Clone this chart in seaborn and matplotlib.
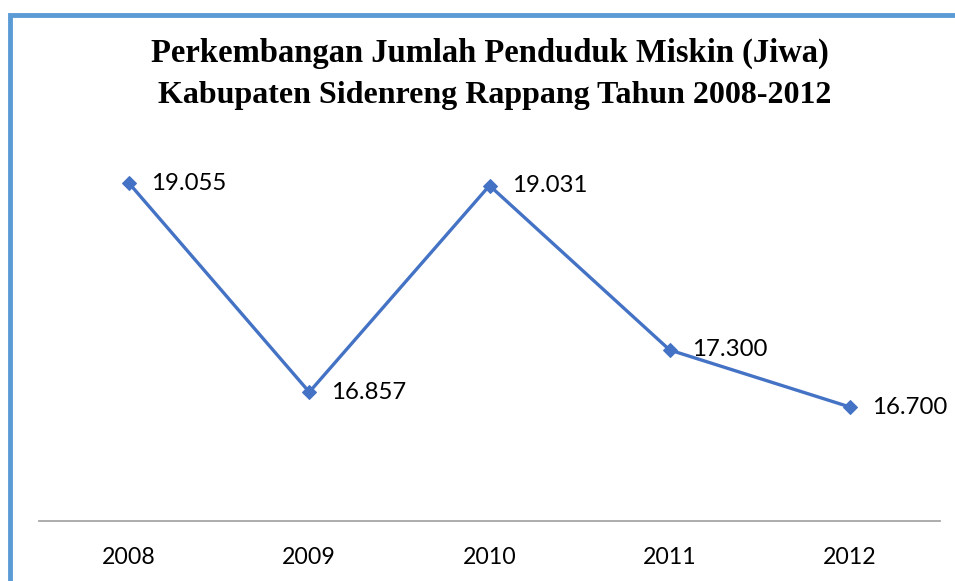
import matplotlib.pyplot as plt
import matplotlib.patches as mpatches
import pandas as pd
import seaborn as sns

# data
years = ['2008', '2009', '2010', '2011', '2012']
penduduk_miskin = [19055, 16857, 19031, 17300, 16700]
labels = ['19.055', '16.857', '19.031', '17.300', '16.700']

df = pd.DataFrame({'pos': range(len(years)), 'jiwa': penduduk_miskin})

sns.set_style('white')
plt.rcParams['font.family'] = ['Lato', 'DejaVu Sans']
plt.rcParams['text.color'] = 'black'
plt.rcParams['xtick.color'] = 'black'

fig = plt.figure(figsize=(9.55, 5.81), dpi=100)
ax = fig.add_axes([39 / 955, 1 - 521 / 581, (940 - 39) / 955, (521 - 141) / 581])

sns.lineplot(data=df, x='pos', y='jiwa', ax=ax, color='#4472C4', linewidth=2.4,
             marker='D', markersize=7, markeredgecolor='#4472C4')

for x, y, t in zip(df['pos'], df['jiwa'], labels):
    ax.annotate(t, (x, y), xytext=(16, 0), textcoords='offset points',
                va='center', ha='left', fontsize=17.3, color='black')

ax.set_xlim(-0.5, len(years) - 0.5)
ax.set_ylim(15500, 19500)
ax.set_xticks(range(len(years)))
ax.set_xticklabels(years, fontsize=16.7, color='black')
ax.set_yticks([])
ax.set_xlabel('')
ax.set_ylabel('')
ax.tick_params(axis='x', length=0, pad=19)
for s in ['top', 'right', 'left']:
    ax.spines[s].set_visible(False)
ax.spines['bottom'].set_color('#A6A6A6')
ax.spines['bottom'].set_linewidth(1.3)

fig.text(0.513, 1 - 53 / 581, 'Perkembangan Jumlah Penduduk Miskin (Jiwa)',
         ha='center', va='center', fontsize=23.5, fontweight='bold',
         family='Liberation Serif', color='black')
fig.text(0.518, 1 - 95 / 581, 'Kabupaten Sidenreng Rappang Tahun 2008-2012',
         ha='center', va='center', fontsize=23, fontweight='bold',
         family='Liberation Serif', color='black')

# blue frame (only left and top edges visible)
fig.patches.append(mpatches.Rectangle((10 / 955, -0.1), 1.2, 1 - 14.5 / 581 + 0.1,
                                      transform=fig.transFigure, fill=False,
                                      edgecolor='#5B9BD5', linewidth=3.5))

fig.savefig('out.png', dpi=100)
